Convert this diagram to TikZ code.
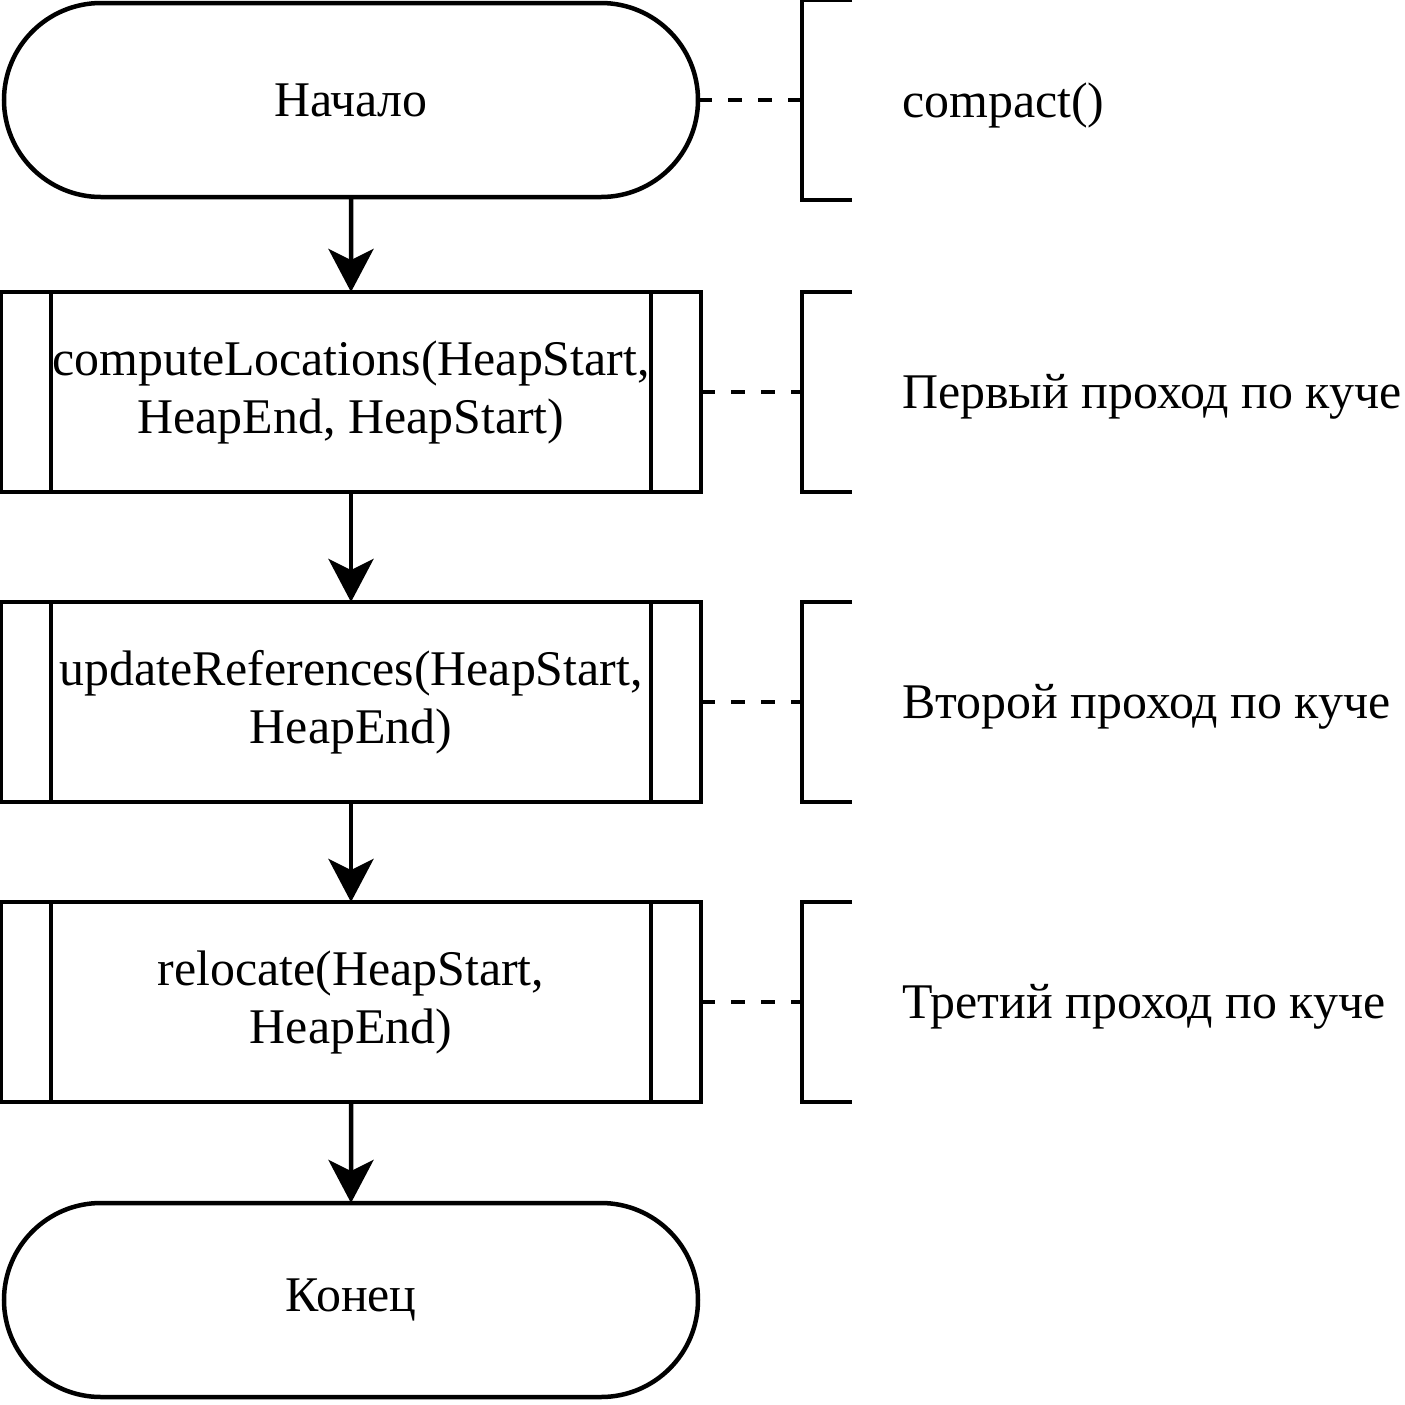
\documentclass[tikz,border=0pt]{standalone}
\usepackage{fontspec}
\setmainfont{Liberation Serif}
\usetikzlibrary{positioning,shapes.misc,arrows.meta,calc}

\begin{document}
\begin{tikzpicture}[
  node distance=1cm and 1cm,
  line width=0.045cm,
  font=\fontsize{14.2}{16.5}\selectfont,
  term/.style={draw,rounded rectangle,minimum width=6.94cm,minimum height=1.94cm,inner sep=0pt,outer sep=0pt},
  proc/.style={draw,rectangle,minimum width=7cm,minimum height=2cm,align=center,inner sep=0pt,outer sep=0pt},
  note/.style={anchor=west,inner sep=0pt,yshift=-0.05cm},
  flow/.style={-{Stealth[length=0.43cm,width=0.45cm,inset=0.11cm]}},
  link/.style={dash pattern=on 0.14cm off 0.16cm}
]
\useasboundingbox (0,0) rectangle (14.05,-14.05);
\node[term] (start) at (3.51,-1.00) {Начало};
\node[proc,below=0.95 of start] (p1) {computeLocations(HeapStart,\\HeapEnd, HeapStart)};
\node[proc,below=1.10 of p1] (p2) {updateReferences(HeapStart,\\HeapEnd)};
\node[proc,below=1.00 of p2] (p3) {relocate(HeapStart,\\HeapEnd)};
\node[term,below=1.01 of p3] (stop) {Конец};
% double side lines of the process boxes
\foreach \n in {p1,p2,p3} {
  \draw ($(\n.north west)+(0.5,0)$) -- ($(\n.south west)+(0.5,0)$);
  \draw ($(\n.north east)+(-0.5,0)$) -- ($(\n.south east)+(-0.5,0)$);
}
\path (start) edge[flow] (p1)
(p1) edge[flow] (p2)
(p2) edge[flow] (p3)
(p3) edge[flow] (stop);
% comments
\node[note] (l0) at (9.00,-1.00) {compact()};
\node[note] (l1) at (9.00,0 |- p1) {Первый проход по куче};
\node[note] (l2) at (9.00,0 |- p2) {Второй проход по куче};
\node[note] (l3) at (9.00,0 |- p3) {Третий проход по куче};
\foreach \n/\i in {start/0,p1/1,p2/2,p3/3} {
  \coordinate (b\i) at (8.02,0 |- \n.east);
  \draw[link] (\n.east) -- (b\i);
  \draw ($(b\i)+(0.5,1)$) -- ($(b\i)+(0,1)$) -- ($(b\i)+(0,-1)$) -- ($(b\i)+(0.5,-1)$);
}
\end{tikzpicture}
\end{document}
